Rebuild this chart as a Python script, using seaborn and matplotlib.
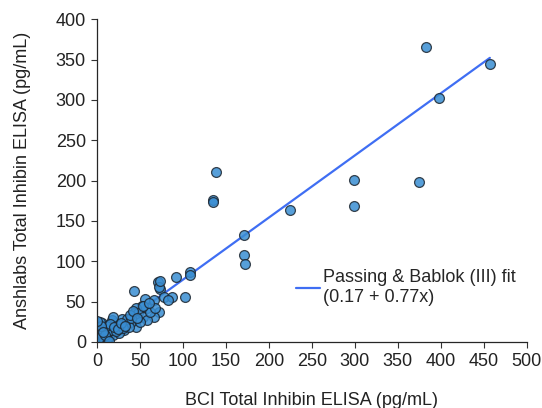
import numpy as np
import pandas as pd
import matplotlib
matplotlib.use('Agg')
import matplotlib.pyplot as plt
import seaborn as sns

# BCI (x) vs Anshlabs (y) total inhibin, pg/mL
bci = [383, 457, 398, 299, 299, 374, 224, 138, 135, 135, 171, 171, 172,
       108, 108, 92, 71, 73, 102,
       43, 72, 73, 56, 66, 78, 87, 72, 66, 58, 52, 45, 43, 48, 54, 58,
       45, 45, 39, 33, 29, 31, 25, 21, 17.5, 19, 13.6, 9.7, 5.8, 3.9, 2,
       7.8, 13.6, 19, 25, 5.8, 2, 11.6, 17.4, 37, 50, 62, 68, 83,
       1, 3, 1.5, 4, 6, 8, 10, 12, 15, 22, 27, 30, 35, 40, 3, 1, 2, 9,
       14, 20, 24, 28, 33, 38, 42, 47, 53, 60, 5, 7, 0.5]
ansh = [365, 345, 302, 201, 169, 198, 164, 211, 176, 173, 132, 108, 96,
        87, 83, 80, 74, 65, 56,
        63, 68, 75, 53, 52, 56, 56, 37.5, 31, 42, 44, 42, 35.5, 35.5, 31, 27,
        27, 19, 25, 23, 29, 15, 19, 23, 27, 31, 19, 15, 23, 15, 6.6,
        4.5, 6.6, 8.7, 10.8, 0.4, 0.4, 10.8, 15, 19, 25, 37.5, 42, 52,
        2, 10, 18, 12, 8, 2, 20, 3, 22, 13, 21, 17, 28, 30, 25, 12, 5, 9,
        1, 18, 16, 24, 20, 33, 38, 30, 45, 48, 20, 12, 26]

pb_intercept = 0.17
pb_slope = 0.77

df = pd.DataFrame({'bci': bci, 'ansh': ansh})
fit_x = np.array([0, max(bci)])
fit = pd.DataFrame({'x': fit_x, 'y': pb_intercept + pb_slope * fit_x})

sns.set_style('ticks')
plt.rcParams['font.family'] = ['Liberation Sans', 'DejaVu Sans']

fig, ax = plt.subplots(figsize=(5.42, 4.08), dpi=100)
fig.subplots_adjust(left=0.179, right=0.972, bottom=0.162, top=0.953)

sns.lineplot(data=fit, x='x', y='y', ax=ax, color='#3f6ef3', lw=1.6, zorder=1,
             label='Passing & Bablok (III) fit\n(0.17 + 0.77x)')
sns.scatterplot(data=df, x='bci', y='ansh', ax=ax, color='#3a8ed3', alpha=0.85,
                edgecolor='#1c2630', linewidth=0.9, s=50, zorder=2)

ax.set_xlim(0, 500)
ax.set_ylim(0, 400)
ax.set_xticks(range(0, 501, 50))
ax.set_yticks(range(0, 401, 50))
ax.tick_params(labelsize=13, length=4, width=0.8, pad=4, color='#333333', labelcolor='#222222')
for s in ['top', 'right']:
    ax.spines[s].set_visible(False)
for s in ['left', 'bottom']:
    ax.spines[s].set_linewidth(0.9)
ax.set_xlabel('BCI Total Inhibin ELISA (pg/mL)', fontsize=13, color='#222222', labelpad=16)
ax.set_ylabel('Anshlabs Total Inhibin ELISA (pg/mL)', fontsize=13, color='#222222', labelpad=18)

ax.legend(loc='lower right', bbox_to_anchor=(0.99, 0.09), frameon=False, fontsize=13,
          handlelength=1.3, handletextpad=0.15, borderaxespad=0, labelspacing=0.2)

fig.savefig('out.png', dpi=100)
